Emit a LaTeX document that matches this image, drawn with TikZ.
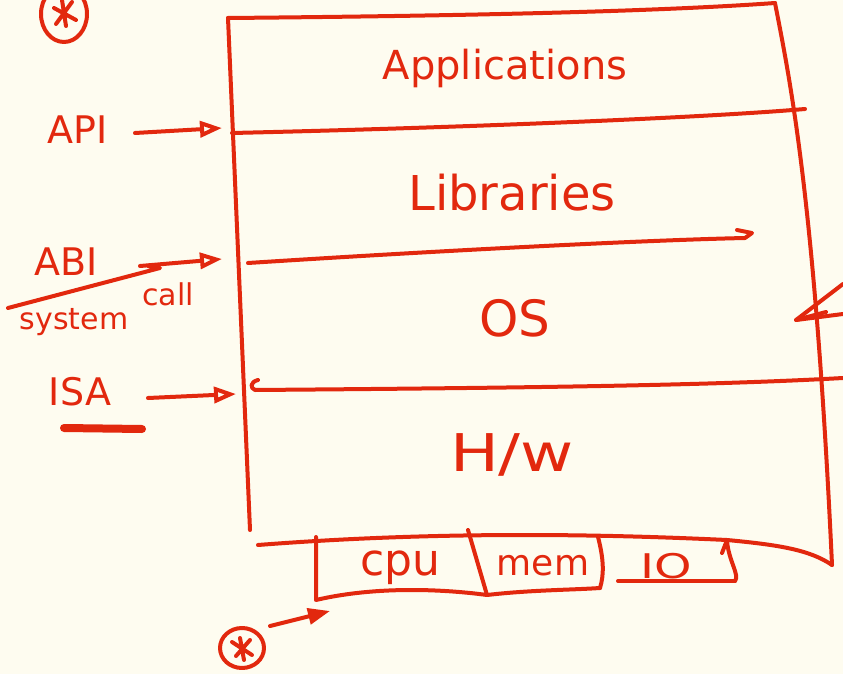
\documentclass[tikz,border=0pt]{standalone}
\usepackage{fontspec}
\setmainfont{DejaVu Sans}
\usetikzlibrary{arrows.meta}
\definecolor{ink}{HTML}{E2280E}
\definecolor{paper}{HTML}{FEFCF0}
\begin{document}
\begin{tikzpicture}[x=1pt,y=-1pt,
  pen/.style={draw=ink, line width=4pt, line cap=round, line join=round},
  big/.style={text=ink, font=\fontsize{40}{44}\selectfont, inner sep=0pt},
  mid/.style={text=ink, font=\fontsize{38}{42}\selectfont, inner sep=0pt},
  small/.style={text=ink, font=\fontsize{30}{34}\selectfont, inner sep=0pt},
  openhead/.style={-{Triangle[open,length=22pt,width=16pt,line width=4pt]}},
  fillhead/.style={-{Triangle[length=22pt,width=16pt]}}]
\fill[paper] (0,0) rectangle (843,674);
\useasboundingbox (0,0) rectangle (843,674);

% main box corners
\coordinate (tl) at (228,18);
\coordinate (tr) at (775,3);
\coordinate (bl) at (250,530);
\coordinate (br) at (832,565);
\draw[pen] (tl) -- (bl);
\draw[pen] (tl) .. controls (450,16) and (650,12) .. (tr);
\draw[pen] (tr) .. controls (790,80) and (815,200) .. (br);

% bottom line of box
\coordinate (bb1) at (258,545);
\coordinate (bb2) at (727,540);
\draw[pen] (bb1) .. controls (450,530) and (620,535) .. (bb2)
  .. controls (780,545) and (810,550) .. (br);

% dividers
\coordinate (d1a) at (232,133);
\coordinate (d1b) at (805,109);
\draw[pen] (d1a) .. controls (450,128) and (700,118) .. (d1b);
\coordinate (d2a) at (248,263);
\coordinate (d2b) at (745,238);
\draw[pen] (d2a) .. controls (450,250) and (650,240) .. (d2b) -- (752,233) -- (737,230);
\coordinate (d3a) at (255,390);
\coordinate (d3b) at (843,378);
\draw[pen] (258,380) .. controls (250,382) and (250,388) .. (d3a)
  .. controls (500,388) and (700,386) .. (d3b);

% layer labels
\node[big] (app) at (505,68) {Applications};
\node[big,font=\fontsize{48}{52}\selectfont] (lib) at (512,193) {Libraries};
\node[big,font=\fontsize{50}{54}\selectfont] (os) at (515,318) {OS};
\node[big,font=\fontsize{52}{56}\selectfont,xscale=1.25] (hw) at (512,455) {H/w};

% left interface labels and arrows
\node[mid] (api) at (78,130) {API};
\coordinate (apis) at (135,133);
\coordinate (apie) at (222,128);
\draw[pen,openhead] (apis) -- (apie);

\node[mid] (abi) at (66,262) {ABI};
\coordinate (abis) at (140,266);
\coordinate (abie) at (222,259);
\draw[pen,openhead] (abis) -- (abie);
\coordinate (scs) at (8,308);
\coordinate (sce) at (160,268);
\draw[pen] (scs) -- (sce) -- (148,266);
\node[small] (sys1) at (74,322) {system};
\node[small] (sys2) at (168,294) {call};

\node[mid] (isa) at (80,392) {ISA};
\draw[draw=ink,line width=8pt,line cap=round] (64,428) -- (142,429);
\coordinate (isas) at (148,398);
\coordinate (isae) at (236,394);
\draw[pen,openhead] (isas) -- (isae);

% right incoming arrow at OS
\coordinate (osin) at (796,320);
\draw[pen] (843,284) -- (osin) -- (843,314);
\draw[pen] (osin) -- (826,312);

% hardware components
\coordinate (c1) at (316,537);
\coordinate (c2) at (316,600);
\coordinate (s1t) at (468,530);
\coordinate (s1b) at (487,595);
\coordinate (s2t) at (598,537);
\coordinate (s2b) at (600,588);
\coordinate (iot) at (727,540);
\coordinate (iob) at (735,581);
\draw[pen] (c1) -- (c2) .. controls (380,585) and (450,590) .. (s1b);
\draw[pen] (s1t) -- (s1b);
\draw[pen] (s1b) .. controls (530,590) and (570,590) .. (s2b);
\draw[pen] (s2t) .. controls (604,560) and (604,575) .. (s2b);
\draw[pen] (618,581) -- (iob);
\draw[pen] (722,553) -- (iot) .. controls (728,560) and (740,575) .. (iob);
\node[mid,font=\fontsize{44}{48}\selectfont] (cpu) at (400,568) {cpu};
\node[mid,font=\fontsize{36}{40}\selectfont] (mem) at (543,566) {mem};
\node[mid,font=\fontsize{34}{38}\selectfont,xscale=1.4] (io) at (666,566) {IO};

% bottom-left arrow and circle mark
\coordinate (bas) at (270,626);
\coordinate (bae) at (330,611);
\draw[pen,fillhead,fill=ink] (bas) -- (bae);
\draw[pen] (242,648) ellipse [x radius=22, y radius=20];
\draw[pen] (232,642) -- (252,655) (250,640) -- (236,656) (240,638) -- (244,660);

% top-left circle mark
\draw[pen] (64,14) ellipse [x radius=23, y radius=28];
\draw[pen] (54,8) -- (76,20) (72,2) -- (56,24) (62,0) -- (66,26);
\end{tikzpicture}
\end{document}
